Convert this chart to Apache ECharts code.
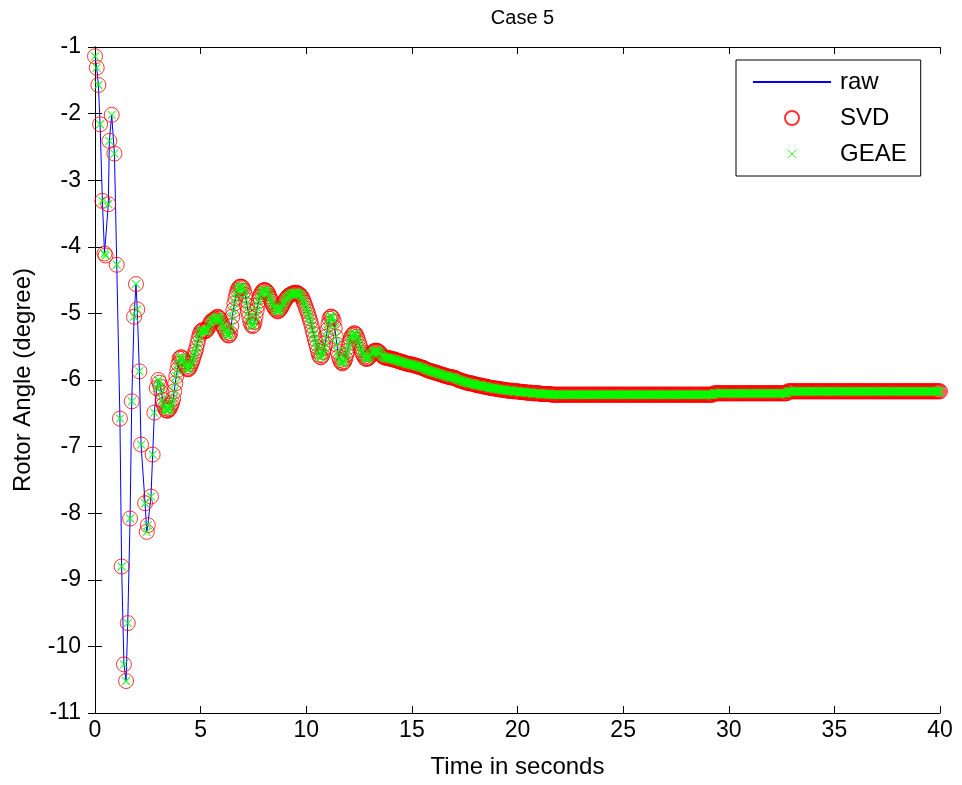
<!DOCTYPE html>
<html>
<head>
<meta charset="utf-8">
<script src="https://cdn.jsdelivr.net/npm/echarts@6/dist/echarts.min.js"></script>
<style>
  html, body { margin: 0; padding: 0; background: #ffffff; }
  #chart { width: 962px; height: 785px; }
</style>
</head>
<body>
<div id="chart"></div>
<script>
// Rotor angle response, Case 5: raw signal and its SVD / GEAE reconstructions.

// First three seconds: samples at the recorded (irregular) instants.
const earlyTime = [0.00, 0.08, 0.16, 0.24, 0.35, 0.45, 0.50, 0.63, 0.68, 0.79,
                   0.92, 1.03, 1.18, 1.26, 1.37, 1.47, 1.55, 1.66, 1.74, 1.85,
                   1.94, 2.00, 2.10, 2.18, 2.37, 2.45, 2.50, 2.65, 2.73, 2.81, 2.92];
const earlyAngle = [-1.14, -1.31, -1.57, -2.16, -3.31, -4.10, -4.13, -3.36, -2.41, -2.02,
                    -2.60, -4.27, -6.58, -8.80, -10.27, -10.52, -9.65, -8.08, -6.32, -5.05,
                    -4.56, -4.94, -5.87, -6.97, -7.85, -8.28, -8.18, -7.75, -7.12, -6.49, -6.12];

// 3 s to 40 s: one sample every 0.05 s (one row per second).
const lateStart = 3.0;
const lateStep = 0.05;
const lateAngle = [
  -6.00, -6.04, -6.10, -6.19, -6.30, -6.37, -6.42, -6.45, -6.46, -6.46, -6.44, -6.42, -6.38, -6.34, -6.28, -6.17, -6.05, -5.94, -5.85, -5.76,
  -5.68, -5.66, -5.66, -5.68, -5.72, -5.76, -5.80, -5.83, -5.84, -5.83, -5.80, -5.76, -5.72, -5.67, -5.62, -5.57, -5.52, -5.45, -5.38, -5.32,
  -5.28, -5.26, -5.25, -5.26, -5.27, -5.26, -5.25, -5.22, -5.18, -5.15, -5.12, -5.11, -5.10, -5.09, -5.08, -5.06, -5.05, -5.06, -5.08, -5.11,
  -5.15, -5.19, -5.22, -5.25, -5.28, -5.31, -5.33, -5.33, -5.30, -5.19, -5.05, -4.95, -4.85, -4.77, -4.70, -4.65, -4.62, -4.60, -4.60, -4.60,
  -4.62, -4.66, -4.72, -4.80, -4.88, -4.97, -5.05, -5.12, -5.17, -5.19, -5.18, -5.13, -5.05, -4.96, -4.88, -4.81, -4.75, -4.71, -4.68, -4.66,
  -4.65, -4.65, -4.66, -4.68, -4.70, -4.74, -4.78, -4.82, -4.86, -4.89, -4.92, -4.94, -4.96, -4.97, -4.96, -4.94, -4.92, -4.89, -4.86, -4.83,
  -4.80, -4.78, -4.76, -4.74, -4.73, -4.72, -4.71, -4.70, -4.70, -4.69, -4.69, -4.69, -4.70, -4.71, -4.72, -4.74, -4.76, -4.80, -4.84, -4.88,
  -4.93, -4.97, -5.02, -5.07, -5.12, -5.18, -5.25, -5.31, -5.38, -5.44, -5.50, -5.56, -5.62, -5.65, -5.66, -5.63, -5.58, -5.52, -5.45, -5.35,
  -5.25, -5.16, -5.08, -5.05, -5.05, -5.07, -5.12, -5.22, -5.35, -5.47, -5.58, -5.65, -5.70, -5.73, -5.75, -5.74, -5.72, -5.68, -5.62, -5.56,
  -5.50, -5.44, -5.38, -5.34, -5.32, -5.30, -5.30, -5.32, -5.35, -5.40, -5.45, -5.50, -5.55, -5.59, -5.62, -5.65, -5.68, -5.68, -5.68, -5.67,
  -5.65, -5.62, -5.60, -5.58, -5.57, -5.56, -5.56, -5.56, -5.57, -5.58, -5.60, -5.62, -5.64, -5.65, -5.66, -5.66, -5.67, -5.67, -5.67, -5.68,
  -5.68, -5.68, -5.69, -5.69, -5.70, -5.70, -5.71, -5.71, -5.72, -5.72, -5.73, -5.73, -5.74, -5.74, -5.75, -5.75, -5.76, -5.76, -5.76, -5.77,
  -5.77, -5.77, -5.78, -5.78, -5.79, -5.79, -5.80, -5.80, -5.81, -5.81, -5.82, -5.82, -5.83, -5.84, -5.85, -5.85, -5.86, -5.86, -5.87, -5.87,
  -5.88, -5.88, -5.89, -5.89, -5.90, -5.90, -5.91, -5.91, -5.92, -5.92, -5.93, -5.93, -5.94, -5.94, -5.95, -5.95, -5.96, -5.96, -5.96, -5.96,
  -5.97, -5.97, -5.98, -5.99, -6.00, -6.00, -6.01, -6.01, -6.02, -6.02, -6.03, -6.03, -6.04, -6.04, -6.05, -6.05, -6.05, -6.05, -6.06, -6.06,
  -6.07, -6.07, -6.08, -6.08, -6.08, -6.08, -6.09, -6.09, -6.10, -6.10, -6.10, -6.10, -6.11, -6.11, -6.12, -6.12, -6.12, -6.12, -6.13, -6.13,
  -6.13, -6.13, -6.14, -6.14, -6.14, -6.14, -6.15, -6.15, -6.15, -6.15, -6.16, -6.16, -6.16, -6.16, -6.16, -6.16, -6.17, -6.17, -6.17, -6.17,
  -6.17, -6.17, -6.18, -6.18, -6.18, -6.18, -6.18, -6.18, -6.19, -6.19, -6.19, -6.19, -6.19, -6.19, -6.20, -6.20, -6.20, -6.20, -6.20, -6.20,
  -6.20, -6.20, -6.21, -6.21, -6.21, -6.21, -6.21, -6.21, -6.21, -6.21, -6.21, -6.21, -6.22, -6.22, -6.22, -6.22, -6.22, -6.22, -6.22, -6.22,
  -6.22, -6.22, -6.22, -6.22, -6.22, -6.22, -6.22, -6.22, -6.22, -6.22, -6.22, -6.22, -6.22, -6.22, -6.22, -6.22, -6.22, -6.22, -6.22, -6.22,
  -6.22, -6.22, -6.22, -6.22, -6.22, -6.22, -6.22, -6.22, -6.22, -6.22, -6.22, -6.22, -6.22, -6.22, -6.22, -6.22, -6.22, -6.22, -6.22, -6.22,
  -6.22, -6.22, -6.22, -6.22, -6.22, -6.22, -6.22, -6.22, -6.22, -6.22, -6.22, -6.22, -6.22, -6.22, -6.22, -6.22, -6.22, -6.22, -6.22, -6.22,
  -6.22, -6.22, -6.22, -6.22, -6.22, -6.22, -6.22, -6.22, -6.22, -6.22, -6.22, -6.22, -6.22, -6.22, -6.22, -6.22, -6.22, -6.22, -6.22, -6.22,
  -6.22, -6.22, -6.22, -6.22, -6.22, -6.22, -6.22, -6.22, -6.22, -6.22, -6.22, -6.22, -6.22, -6.22, -6.22, -6.22, -6.22, -6.22, -6.22, -6.22,
  -6.22, -6.22, -6.22, -6.22, -6.22, -6.22, -6.22, -6.22, -6.22, -6.22, -6.22, -6.22, -6.22, -6.22, -6.22, -6.22, -6.22, -6.22, -6.22, -6.22,
  -6.22, -6.22, -6.22, -6.22, -6.22, -6.22, -6.22, -6.22, -6.22, -6.22, -6.22, -6.22, -6.22, -6.22, -6.22, -6.22, -6.22, -6.22, -6.22, -6.22,
  -6.22, -6.22, -6.22, -6.22, -6.22, -6.22, -6.20, -6.20, -6.20, -6.20, -6.20, -6.20, -6.20, -6.20, -6.20, -6.20, -6.20, -6.20, -6.20, -6.20,
  -6.20, -6.20, -6.20, -6.20, -6.20, -6.20, -6.20, -6.20, -6.20, -6.20, -6.20, -6.20, -6.20, -6.20, -6.20, -6.20, -6.20, -6.20, -6.20, -6.20,
  -6.20, -6.20, -6.20, -6.20, -6.20, -6.20, -6.20, -6.20, -6.20, -6.20, -6.20, -6.20, -6.20, -6.20, -6.20, -6.20, -6.20, -6.20, -6.20, -6.20,
  -6.20, -6.20, -6.20, -6.20, -6.20, -6.20, -6.20, -6.20, -6.20, -6.20, -6.20, -6.20, -6.20, -6.20, -6.20, -6.20, -6.17, -6.17, -6.17, -6.17,
  -6.17, -6.17, -6.17, -6.17, -6.17, -6.17, -6.17, -6.17, -6.17, -6.17, -6.17, -6.17, -6.17, -6.17, -6.17, -6.17, -6.17, -6.17, -6.17, -6.17,
  -6.17, -6.17, -6.17, -6.17, -6.17, -6.17, -6.17, -6.17, -6.17, -6.17, -6.17, -6.17, -6.17, -6.17, -6.17, -6.17, -6.17, -6.17, -6.17, -6.17,
  -6.17, -6.17, -6.17, -6.17, -6.17, -6.17, -6.17, -6.17, -6.17, -6.17, -6.17, -6.17, -6.17, -6.17, -6.17, -6.17, -6.17, -6.17, -6.17, -6.17,
  -6.17, -6.17, -6.17, -6.17, -6.17, -6.17, -6.17, -6.17, -6.17, -6.17, -6.17, -6.17, -6.17, -6.17, -6.17, -6.17, -6.17, -6.17, -6.17, -6.17,
  -6.17, -6.17, -6.17, -6.17, -6.17, -6.17, -6.17, -6.17, -6.17, -6.17, -6.17, -6.17, -6.17, -6.17, -6.17, -6.17, -6.17, -6.17, -6.17, -6.17,
  -6.17, -6.17, -6.17, -6.17, -6.17, -6.17, -6.17, -6.17, -6.17, -6.17, -6.17, -6.17, -6.17, -6.17, -6.17, -6.17, -6.17, -6.17, -6.17, -6.17,
  -6.17, -6.17, -6.17, -6.17, -6.17, -6.17, -6.17, -6.17, -6.17, -6.17, -6.17, -6.17, -6.17, -6.17, -6.17, -6.17, -6.17, -6.17, -6.17, -6.17,
  -6.17
];

// Sample instants of the uniformly sampled part of the record.
const lateTime = lateAngle.map((_, i) => +(lateStart + i * lateStep).toFixed(2));
const sampleTime = earlyTime.concat(lateTime);

// The SVD and GEAE estimates coincide with the raw trace at this scale.
const rawAngle = earlyAngle.concat(lateAngle);
const svdAngle = rawAngle.slice();
const geaeAngle = rawAngle.slice();

const xTicks = { min: 0, max: 40, interval: 5 };
const yTicks = { min: -11, max: -1, interval: 1 };

const pairs = (values) => sampleTime.map((t, i) => [t, values[i]]);

const FONT = '"Liberation Sans", Arial, Helvetica, sans-serif';
const CROSS = 'path://M0,0L10,10M10,0L0,10';
const CROSS_LEGEND = 'path://M0,0M14,14M3,3L11,11M11,3L3,11';

const axisLineStyle = { show: true, lineStyle: { color: '#000', width: 1 } };
const tickStyle = { show: true, inside: true, length: 7, lineStyle: { color: '#000', width: 1 } };

const chart = echarts.init(document.getElementById('chart'), null, { renderer: 'canvas' });

chart.setOption({
  animation: false,
  backgroundColor: '#ffffff',
  title: {
    text: 'Case 5',
    left: 517.5,
    top: 3,
    textAlign: 'center',
    textStyle: { fontFamily: FONT, fontSize: 20, fontWeight: 'normal', color: '#000' }
  },
  grid: { left: 95, right: 22, top: 47, bottom: 72, containLabel: false },
  legend: {
    orient: 'vertical',
    left: 736,
    top: 60,
    z: 10,
    backgroundColor: '#ffffff',
    borderColor: '#000',
    borderWidth: 1,
    borderRadius: 0,
    padding: [10, 14, 10, 16],
    itemGap: 12,
    itemWidth: 78,
    itemHeight: 14,
    selectedMode: false,
    textStyle: { fontFamily: FONT, fontSize: 24, color: '#000', padding: [0, 0, 0, 4] },
    data: [
      { name: 'raw', itemStyle: { color: 'rgba(0,0,0,0)', borderColor: 'rgba(0,0,0,0)', borderWidth: 0 } },
      { name: 'SVD', icon: 'circle' },
      { name: 'GEAE', icon: CROSS_LEGEND, itemStyle: { borderWidth: 1 } }
    ]
  },
  xAxis: [
    {
      type: 'value', position: 'bottom',
      min: xTicks.min, max: xTicks.max, interval: xTicks.interval,
      name: 'Time in seconds', nameLocation: 'middle', nameGap: 42,
      nameTextStyle: { fontFamily: FONT, fontSize: 24, color: '#000' },
      axisLine: axisLineStyle, axisTick: tickStyle,
      axisLabel: { fontFamily: FONT, fontSize: 23, color: '#000', margin: 6 },
      splitLine: { show: false }
    },
    {
      type: 'value', position: 'top',
      min: xTicks.min, max: xTicks.max, interval: xTicks.interval,
      axisLine: axisLineStyle, axisTick: tickStyle,
      axisLabel: { show: false }, splitLine: { show: false }
    }
  ],
  yAxis: [
    {
      type: 'value', position: 'left',
      min: yTicks.min, max: yTicks.max, interval: yTicks.interval,
      name: 'Rotor Angle (degree)', nameLocation: 'middle', nameGap: 60, nameRotate: 90,
      nameTextStyle: { fontFamily: FONT, fontSize: 24, color: '#000' },
      axisLine: axisLineStyle, axisTick: tickStyle,
      axisLabel: { fontFamily: FONT, fontSize: 23, color: '#000', margin: 14 },
      splitLine: { show: false }
    },
    {
      type: 'value', position: 'right',
      min: yTicks.min, max: yTicks.max, interval: yTicks.interval,
      axisLine: axisLineStyle, axisTick: tickStyle,
      axisLabel: { show: false }, splitLine: { show: false }
    }
  ],
  series: [
    {
      name: 'raw',
      type: 'line',
      z: 1,
      data: pairs(rawAngle),
      symbol: 'none',
      lineStyle: { color: '#0000ff', width: 1 },
      itemStyle: { color: '#0000ff' },
      emphasis: { disabled: true },
      silent: true
    },
    {
      name: 'SVD',
      type: 'scatter',
      z: 2,
      data: pairs(svdAngle),
      symbol: 'circle',
      symbolSize: 15,
      itemStyle: { color: 'rgba(0,0,0,0)', borderColor: '#ff0000', borderWidth: 1 },
      emphasis: { disabled: true },
      silent: true
    },
    {
      name: 'GEAE',
      type: 'scatter',
      z: 3,
      data: pairs(geaeAngle),
      symbol: CROSS,
      symbolSize: 8,
      itemStyle: { color: 'rgba(0,0,0,0)', borderColor: '#00ff00', borderWidth: 1.2 },
      emphasis: { disabled: true },
      silent: true
    }
  ]
});
</script>
</body>
</html>
